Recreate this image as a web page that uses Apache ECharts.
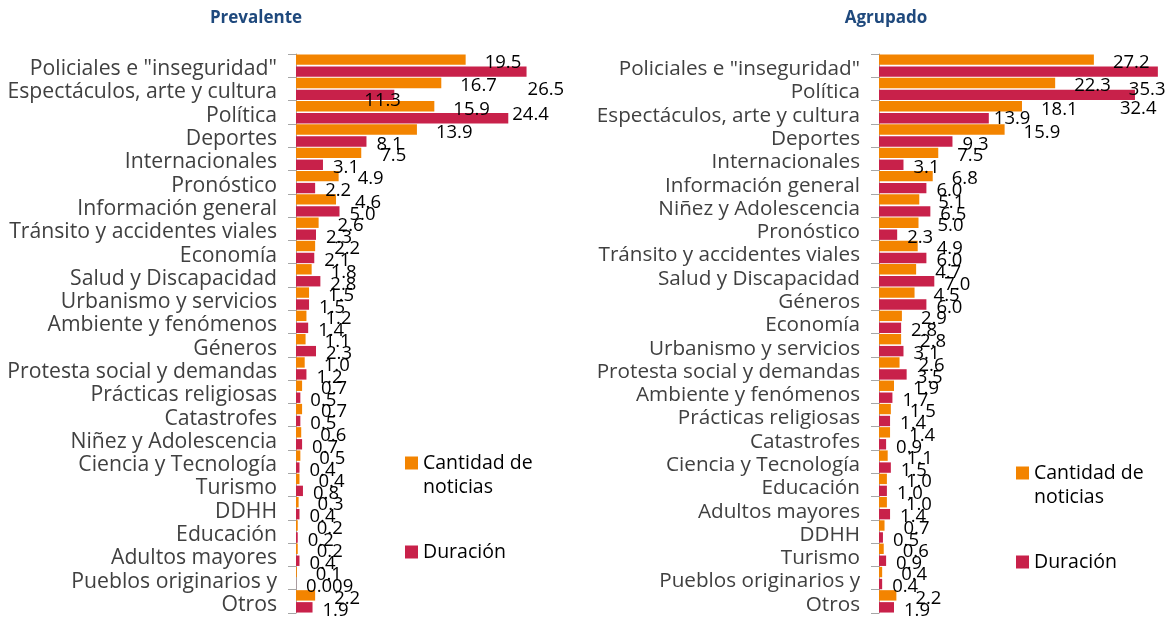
<!DOCTYPE html>
<html><head><meta charset="utf-8">
<script src="https://cdn.jsdelivr.net/npm/echarts@6/dist/echarts.min.js"></script>
<style>html,body{margin:0;padding:0;background:#fff}#c{width:1170px;height:618px}</style>
</head><body><div id="c"></div>
<script>
// ---- Data ----
const catsPrev = ['Policiales e "inseguridad"','Espectáculos, arte y cultura','Política','Deportes','Internacionales','Pronóstico','Información general','Tránsito y accidentes viales','Economía','Salud y Discapacidad','Urbanismo y servicios','Ambiente y fenómenos','Géneros','Protesta social y demandas','Prácticas religiosas','Catastrofes','Niñez y Adolescencia','Ciencia y Tecnología','Turismo','DDHH','Educación','Adultos mayores','Pueblos originarios y','Otros'];
const cantPrev = [19.5,16.7,15.9,13.9,7.5,4.9,4.6,2.6,2.2,1.8,1.5,1.2,1.1,1.0,0.7,0.7,0.6,0.5,0.4,0.3,0.2,0.2,0.1,2.2];
const durPrev  = [26.5,11.3,24.4,8.1,3.1,2.2,5.0,2.3,2.1,2.8,1.5,1.4,2.3,1.2,0.5,0.5,0.7,0.4,0.8,0.4,0.2,0.4,0.009,1.9];

const catsAgr = ['Policiales e "inseguridad"','Política','Espectáculos, arte y cultura','Deportes','Internacionales','Información general','Niñez y Adolescencia','Pronóstico','Tránsito y accidentes viales','Salud y Discapacidad','Géneros','Economía','Urbanismo y servicios','Protesta social y demandas','Ambiente y fenómenos','Prácticas religiosas','Catastrofes','Ciencia y Tecnología','Educación','Adultos mayores','DDHH','Turismo','Pueblos originarios y','Otros'];
const cantAgr = [27.2,22.3,18.1,15.9,7.5,6.8,5.1,5.0,4.9,4.7,4.5,2.9,2.8,2.6,1.9,1.5,1.4,1.1,1.0,1.0,0.7,0.6,0.4,2.2];
const durAgr  = [35.3,32.4,13.9,9.3,3.1,6.0,6.5,2.3,6.0,7.0,6.0,2.8,3.1,3.5,1.7,1.4,0.9,1.5,1.0,1.4,0.5,0.9,0.4,1.9];

const panelTitles = ['Prevalente','Agrupado'];
const seriesNames = ['Cantidad de noticias','Duración'];

// ---- Styling / layout (not data) ----
const FONT = 'Open Sans';
const COLORS = ['#F38400','#C8214A'];
const panels = [
  {cats: catsPrev, cant: cantPrev, dur: durPrev, left: 296, width: 261, max: 30, titleX: 251, catFont: 21.2,
   legendX: 405, legendTop1: 427, legendTop2: 540,
   durLabelFix: {0:[1,18], 1:[-30,6], 2:[4,-3]}},
  {cats: catsAgr, cant: cantAgr, dur: durAgr, left: 879, width: 284.4, max: 36, titleX: 881, catFont: 20.7,
   legendX: 1016, legendTop1: 437, legendTop2: 550,
   durLabelFix: {0:[-29,18], 1:[-15,14], 2:[5,1]}}
];
const DEF_OFF = [[19,3],[10,3]];

function fmt(p){
  const v = p.value;
  return (Math.round(v*10)/10 === v) ? v.toFixed(1) : String(v);
}

const option = {
  animation: false,
  backgroundColor: '#fff',
  title: [], grid: [], xAxis: [], yAxis: [], series: [], legend: []
};

panels.forEach((pn, i) => {
  option.title.push({
    text: panelTitles[i], left: pn.titleX, top: 5, textAlign: 'center',
    textStyle: {fontFamily: FONT, fontSize: 17, fontWeight: 'bold', color: '#1F497D'}
  });
  option.grid.push({left: pn.left, top: 54, width: pn.width, height: 559, containLabel: false});
  option.xAxis.push({type: 'value', gridIndex: i, min: 0, max: pn.max, show: false});
  option.yAxis.push({
    type: 'category', gridIndex: i, data: pn.cats, inverse: true,
    axisLine: {show: true, lineStyle: {color: '#A6A6A6', width: 1}},
    axisTick: {show: true, length: 8, lineStyle: {color: '#A6A6A6'}},
    axisLabel: {margin: 19, fontFamily: FONT, fontSize: pn.catFont, color: '#404040', interval: 0,
      verticalAlign: 'top', lineHeight: 7}
  });
  [pn.cant, pn.dur].forEach((vals, s) => {
    const fix = s === 1 ? pn.durLabelFix : {};
    option.series.push({
      type: 'bar', name: seriesNames[s], xAxisIndex: i, yAxisIndex: i,
      barCategoryGap: '4%', barGap: '15%',
      itemStyle: {color: COLORS[s]},
      label: {show: true, position: 'right', distance: 0, offset: DEF_OFF[s],
        formatter: fmt, fontFamily: FONT, fontSize: 18.5, color: '#000'},
      data: vals.map((v, k) => fix[k] ? {value: v, label: {offset: fix[k]}} : v)
    });
  });
  option.legend.push({
    data: [seriesNames[0]], orient: 'vertical', left: pn.legendX, top: pn.legendTop1, padding: 0,
    selectedMode: false, icon: 'rect', itemWidth: 13, itemHeight: 13, itemGap: 0,
    formatter: () => '\nCantidad de\nnoticias',
    textStyle: {fontFamily: FONT, fontSize: 19.5, color: '#000', lineHeight: 24}
  });
  option.legend.push({
    data: [seriesNames[1]], orient: 'vertical', left: pn.legendX, top: pn.legendTop2, padding: 0,
    selectedMode: false, icon: 'rect', itemWidth: 13, itemHeight: 13,
    textStyle: {fontFamily: FONT, fontSize: 19.5, color: '#000', lineHeight: 24}
  });
});

const chart = echarts.init(document.getElementById('c'), null, {renderer: 'canvas'});
chart.setOption(option);
</script>
</body></html>
